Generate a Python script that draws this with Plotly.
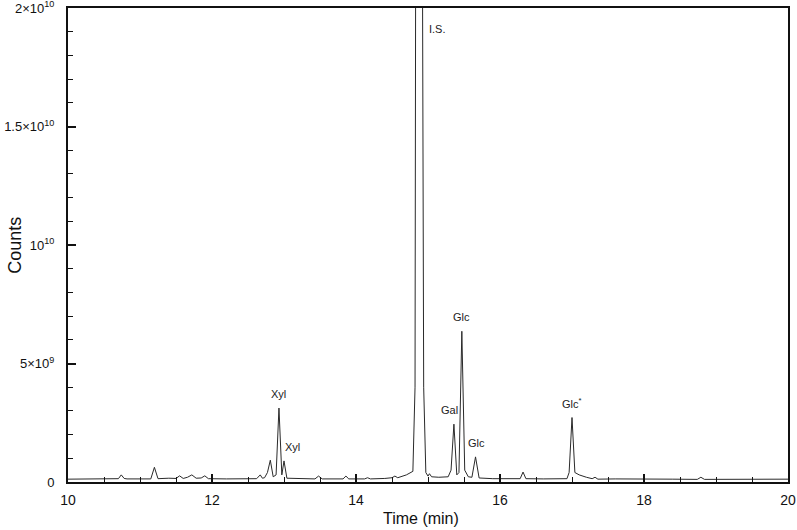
import plotly.graph_objects as go

# chromatogram trace (time in min, counts in units of 1e9)
time_min = [10.00, 10.30, 10.50, 10.70, 10.74, 10.78, 10.82, 11.00, 11.15, 11.20, 11.25,
            11.40, 11.50, 11.55, 11.60, 11.66, 11.72, 11.78, 11.85, 11.90, 11.95, 12.20,
            12.40, 12.62, 12.67, 12.70, 12.73, 12.77, 12.81, 12.85, 12.89, 12.93, 12.97,
            13.00, 13.04, 13.20, 13.43, 13.48, 13.53, 13.82, 13.86, 13.90, 14.12, 14.16,
            14.20, 14.40, 14.50, 14.54, 14.58, 14.70, 14.79, 14.82, 14.83, 14.92, 14.94,
            14.97, 15.00, 15.02, 15.05, 15.15, 15.28, 15.32, 15.36, 15.40, 15.43, 15.47,
            15.51, 15.56, 15.61, 15.66, 15.71, 15.90, 16.20, 16.28, 16.32, 16.36, 16.60,
            16.93, 16.96, 17.00, 17.04, 17.10, 17.20, 17.28, 17.32, 17.36, 17.60, 18.00,
            18.40, 18.74, 18.79, 18.84, 19.20, 19.60, 20.00]
counts_e9 = [0.12, 0.13, 0.12, 0.14, 0.30, 0.15, 0.13, 0.14, 0.13, 0.62, 0.14,
             0.16, 0.15, 0.26, 0.15, 0.20, 0.30, 0.16, 0.17, 0.26, 0.14, 0.13,
             0.14, 0.14, 0.30, 0.16, 0.18, 0.40, 0.92, 0.22, 0.30, 3.12, 0.30,
             0.89, 0.16, 0.14, 0.13, 0.25, 0.13, 0.13, 0.25, 0.13, 0.13, 0.18,
             0.13, 0.15, 0.18, 0.25, 0.18, 0.30, 0.45, 4.00, 25.0, 25.0, 4.00,
             0.40, 0.25, 0.35, 0.22, 0.20, 0.22, 0.50, 2.44, 0.30, 0.40, 6.36,
             0.50, 0.22, 0.20, 1.06, 0.17, 0.14, 0.13, 0.14, 0.42, 0.14, 0.13,
             0.14, 0.40, 2.72, 0.40, 0.30, 0.20, 0.14, 0.20, 0.12, 0.13, 0.11,
             0.12, 0.11, 0.20, 0.11, 0.12, 0.11, 0.12]

# peak labels (time of apex, apex height in 1e9, text)
label_time = [12.93, 13.00, 15.36, 15.47, 15.66, 17.00]
label_height = [3.12, 0.89, 2.44, 6.36, 1.06, 2.72]
label_text = ["Xyl", "Xyl", "Gal", "Glc", "Glc", "Glc<sup>*</sup>"]
label_dx = [0, 8, -4, 0, 1, 0]

y_tickvals = [0, 5, 10, 15, 20]
y_ticktext = ["0", "5×10<sup>9</sup>", "10<sup>10</sup>",
              "1.5×10<sup>10</sup>", "2×10<sup>10</sup>"]

font = "Liberation Sans, Arial, Helvetica, sans-serif"

fig = go.Figure(go.Scatter(
    x=time_min, y=counts_e9, mode="lines",
    line=dict(color="#2a2a2a", width=1),
    hoverinfo="skip",
))

for t, h, txt, dx in zip(label_time, label_height, label_text, label_dx):
    fig.add_annotation(x=t, y=h, text=txt, showarrow=False,
                       xanchor="center", yanchor="bottom", yshift=6, xshift=dx,
                       font=dict(family=font, size=11, color="#222"))

fig.add_annotation(x=14.92, y=19.1, text="I.S.", showarrow=False,
                   xanchor="left", yanchor="middle", xshift=5,
                   font=dict(family=font, size=11, color="#222"))

# axis titles placed by hand so the plot area keeps its size
fig.add_annotation(xref="paper", yref="paper", x=0.49, y=-0.078,
                   text="Time (min)", showarrow=False,
                   xanchor="center", yanchor="middle",
                   font=dict(family=font, size=16, color="#111"))
fig.add_annotation(xref="paper", yref="paper", x=-0.074, y=0.5,
                   text="Counts", showarrow=False, textangle=-90,
                   xanchor="center", yanchor="middle",
                   font=dict(family=font, size=18, color="#111"))

fig.update_layout(
    width=797, height=530,
    margin=dict(l=68, r=9, t=8, b=48),
    paper_bgcolor="white", plot_bgcolor="white",
    showlegend=False,
    font=dict(family=font, color="#111"),
    xaxis=dict(
        range=[10, 20], tickvals=[10, 12, 14, 16, 18, 20],
        ticks="inside", ticklen=8, tickwidth=1.5, tickcolor="#111",
        minor=dict(dtick=0.5, ticks="inside", ticklen=5, tickwidth=1, tickcolor="#111"),
        showline=True, linecolor="#111", linewidth=2, mirror=True,
        showgrid=False, zeroline=False, automargin=False,
        ticklabeloverflow="allow",
        tickfont=dict(size=14), ticklabelstandoff=4,
    ),
    yaxis=dict(
        range=[0, 20], tickvals=y_tickvals, ticktext=y_ticktext,
        ticks="inside", ticklen=8, tickwidth=1.5, tickcolor="#111",
        minor=dict(dtick=1, ticks="inside", ticklen=5, tickwidth=1, tickcolor="#111"),
        showline=True, linecolor="#111", linewidth=2, mirror=True,
        showgrid=False, zeroline=False, automargin=False,
        ticklabeloverflow="allow",
        tickfont=dict(size=13), ticklabelstandoff=9,
    ),
)

# drop the page's default body margin so the figure sits at the window's corner
fig.write_html("out.html", config={"displayModeBar": False},
               post_script="document.body.style.margin='0';")
